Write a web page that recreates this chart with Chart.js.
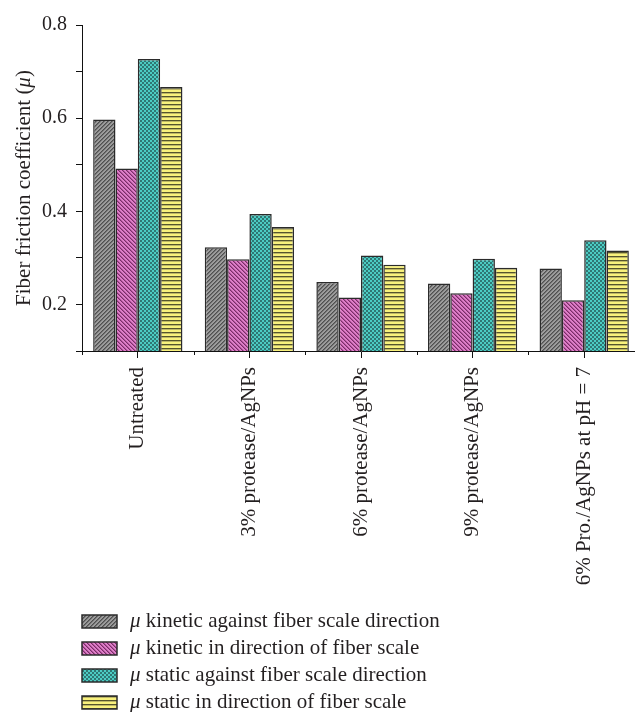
<!DOCTYPE html>
<html>
<head>
<meta charset="utf-8">
<script src="https://cdn.jsdelivr.net/npm/chart.js@4.4.1/dist/chart.umd.min.js"></script>
<style>
  html, body { margin: 0; padding: 0; background: #fff; overflow: hidden; }
  #wrap { position: relative; width: 640px; height: 712px; }
</style>
</head>
<body>
<div id="wrap"><canvas id="chart"></canvas></div>
<script>
// Treatments along the x axis
const categories = [
  'Untreated',
  '3% protease/AgNPs',
  '6% protease/AgNPs',
  '9% protease/AgNPs',
  '6% Pro./AgNPs at pH = 7'
];

// Friction coefficients (μ) per treatment
const kineticAgainst = [0.597, 0.323, 0.248, 0.245, 0.277];
const kineticWith    = [0.492, 0.297, 0.215, 0.224, 0.209];
const staticAgainst  = [0.727, 0.394, 0.305, 0.298, 0.338];
const staticWith     = [0.667, 0.366, 0.285, 0.279, 0.316];

// Series names (drawn after an italic μ)
const seriesNames = [
  'kinetic against fiber scale direction',
  'kinetic in direction of fiber scale',
  'static against fiber scale direction',
  'static in direction of fiber scale'
];

// Labelled y values
const yLabelled = [0.2, 0.4, 0.6, 0.8];

const SERIF = '"Liberation Serif", "Times New Roman", serif';
const INK = '#231f20';

// Small pixel tiles used as bar fills
function makePattern(size, pixelColor) {
  const c = document.createElement('canvas');
  c.width = size; c.height = size;
  const g = c.getContext('2d');
  for (let y = 0; y < size; y++) {
    for (let x = 0; x < size; x++) {
      g.fillStyle = pixelColor(x, y);
      g.fillRect(x, y, 1, 1);
    }
  }
  return g.createPattern(c, 'repeat');
}
const ctx0 = document.getElementById('chart').getContext('2d');
const fills = [
  // grey with "/" hatching
  makePattern(4, (x, y) => {
    const k = (x + y) % 4;
    return k === 0 ? '#505050' : k === 1 ? '#707070' : '#9c9c9c';
  }),
  // pink with "\" hatching
  makePattern(4, (x, y) => {
    const k = ((x - y) % 4 + 4) % 4;
    return k === 0 ? '#7a2d68' : k === 1 ? '#b0559a' : '#de7ec8';
  }),
  // teal checker
  makePattern(4, (x, y) => (((x >> 1) + (y >> 1)) % 2 === 0 ? '#2f7774' : '#4cccc3')),
  // yellow with horizontal stripes
  makePattern(4, (x, y) => {
    const k = y % 4;
    return k === 0 ? '#55542c' : k === 1 ? '#bdb766' : '#f8f17c';
  })
];
const seriesData = [kineticAgainst, kineticWith, staticAgainst, staticWith];

// Axis title, legend and boundary ticks
const decorations = {
  id: 'decorations',
  afterDraw(chart) {
    const ctx = chart.ctx;
    const xs = chart.scales.x, ys = chart.scales.y;
    ctx.save();

    // short ticks between categories
    ctx.strokeStyle = '#111';
    ctx.lineWidth = 1;
    const n = categories.length;
    const step = xs.getPixelForValue(1) - xs.getPixelForValue(0);
    for (let i = 0; i <= n; i++) {
      const px = Math.round(xs.getPixelForValue(0) + (i - 0.5) * step) + 0.5;
      ctx.beginPath();
      ctx.moveTo(px, ys.bottom);
      ctx.lineTo(px, ys.bottom + 4);
      ctx.stroke();
    }

    // y axis title with italic μ
    ctx.fillStyle = INK;
    ctx.textBaseline = 'middle';
    const t1 = 'Fiber friction coefficient (';
    const t2 = 'μ';
    const t3 = ')';
    const fUp = '21px ' + SERIF, fIt = 'italic 21px ' + SERIF;
    ctx.font = fUp; const w1 = ctx.measureText(t1).width, w3 = ctx.measureText(t3).width;
    ctx.font = fIt; const w2 = ctx.measureText(t2).width;
    const total = w1 + w2 + w3;
    ctx.translate(24, (ys.top + ys.bottom) / 2);
    ctx.rotate(-Math.PI / 2);
    ctx.textAlign = 'left';
    let x = -total / 2;
    ctx.font = fUp; ctx.fillText(t1, x, 0); x += w1;
    ctx.font = fIt; ctx.fillText(t2, x, 0); x += w2;
    ctx.font = fUp; ctx.fillText(t3, x, 0);
    ctx.setTransform(1, 0, 0, 1, 0, 0);

    // legend
    const rowTop = 621.5, rowGap = 27;
    seriesNames.forEach((name, i) => {
      const cy = rowTop + i * rowGap;
      ctx.fillStyle = fills[i];
      ctx.fillRect(82, cy - 6.5, 35, 13);
      ctx.strokeStyle = '#2b2b2b';
      ctx.lineWidth = 1.5;
      ctx.strokeRect(82, cy - 6.5, 35, 13);
      ctx.fillStyle = INK;
      ctx.textAlign = 'left';
      ctx.textBaseline = 'middle';
      ctx.font = fIt;
      ctx.fillText('μ', 130, cy);
      const wm = ctx.measureText('μ').width;
      ctx.font = fUp;
      ctx.fillText(' ' + name, 130 + wm, cy);
    });
    ctx.restore();
  }
};

new Chart(ctx0, {
  type: 'bar',
  data: {
    labels: categories,
    datasets: seriesData.map((d, i) => ({
      label: seriesNames[i],
      data: d,
      backgroundColor: fills[i],
      borderColor: '#2b2b2b',
      borderWidth: 1.5,
      borderSkipped: 'bottom',
      categoryPercentage: 0.8,
      barPercentage: 1.0
    }))
  },
  options: {
    responsive: true,
    maintainAspectRatio: false,
    animation: false,
    layout: { padding: { top: 25, left: 0, right: 0, bottom: 0 } },
    plugins: { legend: { display: false }, tooltip: { enabled: false } },
    scales: {
      x: {
        afterFit(scale) { scale.height = 361; },
        border: { display: true, color: '#111', width: 1 },
        grid: { offset: false, drawOnChartArea: false, tickLength: 7, color: '#111', lineWidth: 1 },
        ticks: {
          minRotation: 90, maxRotation: 90, autoSkip: false, padding: 9,
          color: INK, font: { family: SERIF, size: 21 }
        }
      },
      y: {
        min: 0.1, max: 0.8,
        afterFit(scale) { scale.width = 82; },
        border: { display: true, color: '#111', width: 1 },
        grid: { drawOnChartArea: false, tickLength: 6, color: '#111', lineWidth: 1 },
        ticks: {
          stepSize: 0.1, padding: 9, color: INK,
          font: { family: SERIF, size: 20 },
          callback(v) {
            return yLabelled.some(l => Math.abs(l - v) < 1e-6) ? v.toFixed(1) : '';
          }
        }
      }
    }
  },
  plugins: [decorations]
});
</script>
</body>
</html>
